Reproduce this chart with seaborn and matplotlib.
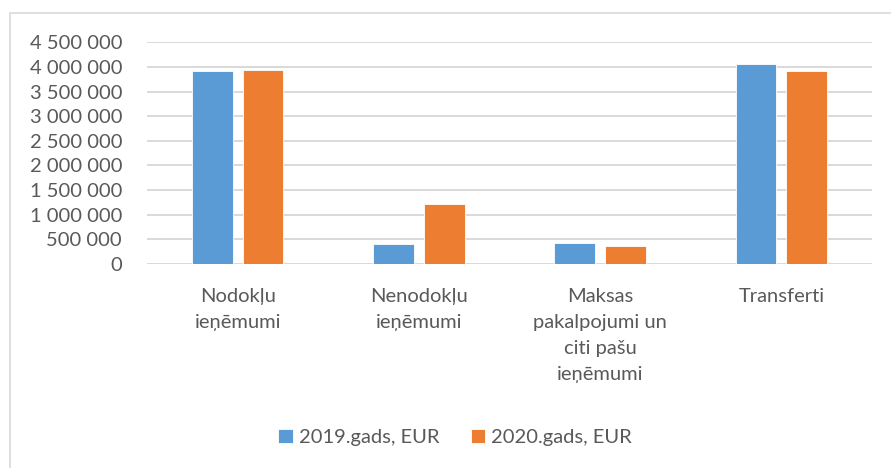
import pandas as pd
import matplotlib.pyplot as plt
import matplotlib.ticker as mticker
import seaborn as sns

categories = ['Nodokļu\nieņēmumi', 'Nenodokļu\nieņēmumi',
              'Maksas\npakalpojumi un\nciti pašu\nieņēmumi', 'Transferti']
series = ['2019.gads, EUR', '2020.gads, EUR']
values_2019 = [3924000, 406000, 420000, 4066000]
values_2020 = [3938000, 1218000, 365000, 3917000]
colors = ['#5B9BD5', '#ED7D31']

df = pd.DataFrame({
    'Kategorija': categories * 2,
    'Sērija': [series[0]] * 4 + [series[1]] * 4,
    'Vērtība': values_2019 + values_2020,
})

sns.set_style('white')
plt.rcParams['font.family'] = ['Lato', 'DejaVu Sans']
text_color = '#595959'
fs = 14.5

fig = plt.figure(figsize=(8.91, 4.68), dpi=100)
ax = fig.add_axes([0.165, 0.4359, 0.8137, 0.4737])

sns.barplot(data=df, x='Kategorija', y='Vērtība', hue='Sērija',
            palette=colors, saturation=1, width=0.56, gap=0.2, ax=ax,
            edgecolor='white', linewidth=0.6, legend=True)

ax.set_xlim(-0.5, 3.5)
ax.set_ylim(0, 4500000)
ax.yaxis.set_major_locator(mticker.MultipleLocator(500000))
ax.yaxis.set_major_formatter(mticker.FuncFormatter(lambda v, p: f'{int(v):,}'.replace(',', ' ')))
ax.grid(axis='y', color='#d9d9d9', linewidth=1.4)
ax.set_axisbelow(True)
for s in ax.spines.values():
    s.set_visible(False)
ax.tick_params(axis='y', length=0, pad=18, labelsize=fs, labelcolor=text_color)
ax.tick_params(axis='x', length=0, pad=17, labelsize=fs, labelcolor=text_color)
for t in ax.get_xticklabels():
    t.set_linespacing(1.65)
ax.set_xlabel('')
ax.set_ylabel('')

handles, labels = ax.get_legend_handles_labels()
ax.get_legend().remove()
fig.legend(handles, labels, loc='center', bbox_to_anchor=(0.511, 0.066), ncol=2,
           frameon=False, fontsize=fs, labelcolor=text_color, handlelength=0.7,
           handleheight=0.7, handletextpad=0.3, columnspacing=1.6)

# chart area border (top and left visible)
fig.add_artist(plt.Line2D([10 / 891, 1], [1 - 13 / 468] * 2, transform=fig.transFigure,
                          color='#d9d9d9', linewidth=1.2))
fig.add_artist(plt.Line2D([10 / 891] * 2, [0, 1 - 13 / 468], transform=fig.transFigure,
                          color='#d9d9d9', linewidth=1.2))

fig.savefig('out.png', dpi=100)
